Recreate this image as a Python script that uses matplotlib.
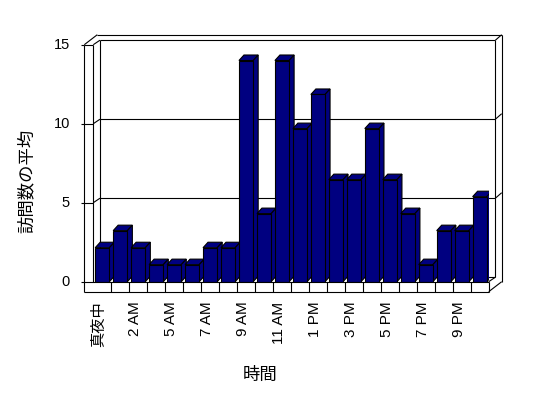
import numpy as np
import matplotlib.pyplot as plt

# average visits per hour
hours = ['真夜中', '1 AM', '2 AM', '3 AM', '5 AM', '6 AM', '7 AM', '8 AM', '9 AM', '10 AM', '11 AM',
         '正午', '1 PM', '2 PM', '3 PM', '4 PM', '5 PM', '6 PM', '7 PM', '8 PM', '9 PM', '10 PM']
visits = [2.15, 3.23, 2.15, 1.08, 1.08, 1.08, 2.15, 2.15, 14.0, 4.31, 14.0,
          9.69, 11.85, 6.46, 6.46, 9.69, 6.46, 4.31, 1.08, 3.23, 3.23, 5.38]
yticks = [0, 5, 10, 15]

W, H = 548, 398
fig = plt.figure(figsize=(W / 100, H / 100), dpi=100)
# front plane of the 3d box, in pixels
left, right, top, bottom = 93.3, 488.7, 44.7, 281.7
ax = fig.add_axes([left / W, 1 - bottom / H, (right - left) / W, (bottom - top) / H])
n = len(hours)
ax.set_xlim(-0.5, n - 0.5)
ax.set_ylim(0, 15)
ax.axis('off')

xpx = (right - left) / n     # pixels per category
ypx = (bottom - top) / 15    # pixels per unit


def px(dx, dy):
    return dx / xpx, dy / ypx


lw = 0.8
kw = dict(color='black', lw=lw, clip_on=False, solid_capstyle='butt')
x0, x1 = -0.5, n - 0.5
d1x, d1y = px(6.7, 4.5)      # front -> inner back wall
d2x, d2y = px(13, 10)        # front -> outer back wall
wall = 9 / xpx               # left wall thickness
floor = 10 / ypx             # floor thickness

# back wall
ax.plot([x0 + d1x, x0 + d1x], [d1y, 15 + d1y], zorder=1, **kw)
ax.plot([x1 + d1x, x1 + d1x], [d1y, 15 + d1y], zorder=1, **kw)
ax.plot([x1 + d2x, x1 + d2x], [-floor + d2y, 15 + d2y], zorder=1, **kw)
ax.plot([x0 - wall + d2x, x1 + d2x], [15 + d2y, 15 + d2y], zorder=1, **kw)
ax.plot([x0 - wall, x0 - wall + d2x], [15, 15 + d2y], zorder=1, **kw)
for v in yticks:
    ax.plot([x0 + d1x, x1 + d1x], [v + d1y, v + d1y], zorder=1, **kw)
    if v > 0:
        ax.plot([x1 + d1x, x1 + d2x], [v + d1y, v + d2y], zorder=1, **kw)
        ax.plot([x0, x0 + d1x], [v, v + d1y], zorder=1, **kw)
        ax.plot([x0 - wall, x0], [v, v], zorder=1, **kw)
    ax.plot([x0 - wall - 3 / xpx, x0 - wall], [v, v], zorder=1, **kw)
    ax.text(x0 - wall - 14.5 / xpx, v, str(v), ha='right', va='center',
            fontsize=10.5, family=['Liberation Sans'])

# left wall front face
ax.plot([x0 - wall, x0 - wall], [-floor, 15], zorder=1, **kw)
ax.plot([x0, x0], [0, 15], zorder=1, **kw)

# floor front face
ax.plot([x0 - wall, x1], [0, 0], zorder=40, **kw)
ax.plot([x0 - wall, x1], [-floor, -floor], zorder=40, **kw)
for k in range(n):
    ax.plot([k + 0.5, k + 0.5], [-floor, 0], zorder=40, **kw)
ax.plot([x1, x1 + d2x], [-floor, -floor + d2y], zorder=40, **kw)
ax.plot([x1, x1 + d1x], [0, d1y], zorder=1, **kw)

# bars with depth
navy = '#000080'
bw = 0.79
bx, by = px(5, 5.5)
xs = np.arange(n)
bars = ax.bar(xs, visits, width=bw, color=navy, edgecolor='black', lw=lw)
for k, (x, v) in enumerate(zip(xs, visits)):
    a, b = x - bw / 2, x + bw / 2
    ax.fill([a, b, b + bx, a + bx], [v, v, v + by, v + by],
            facecolor=navy, edgecolor='black', lw=lw, zorder=10 + k)
    ax.fill([b, b + bx, b + bx, b], [0, by, v + by, v],
            facecolor=navy, edgecolor='black', lw=lw, zorder=10 + k)
    bars[k].set_zorder(10.5 + k)

# category labels
for k in range(0, n, 2):
    ax.text(k - 3 / xpx, -20 / ypx, hours[k], rotation=90, ha='center', va='top',
            fontsize=11, family=['Liberation Sans', 'Noto Sans CJK JP'])

fig.text(27 / W, 1 - 181 / H, '訪問数の平均', rotation=90, ha='center', va='center',
         fontsize=12.5, family=['Noto Sans CJK JP'])
fig.text(260 / W, 1 - 375 / H, '時間', ha='center', va='center',
         fontsize=12.5, family=['Noto Sans CJK JP'])

fig.savefig('out.png', dpi=100)
